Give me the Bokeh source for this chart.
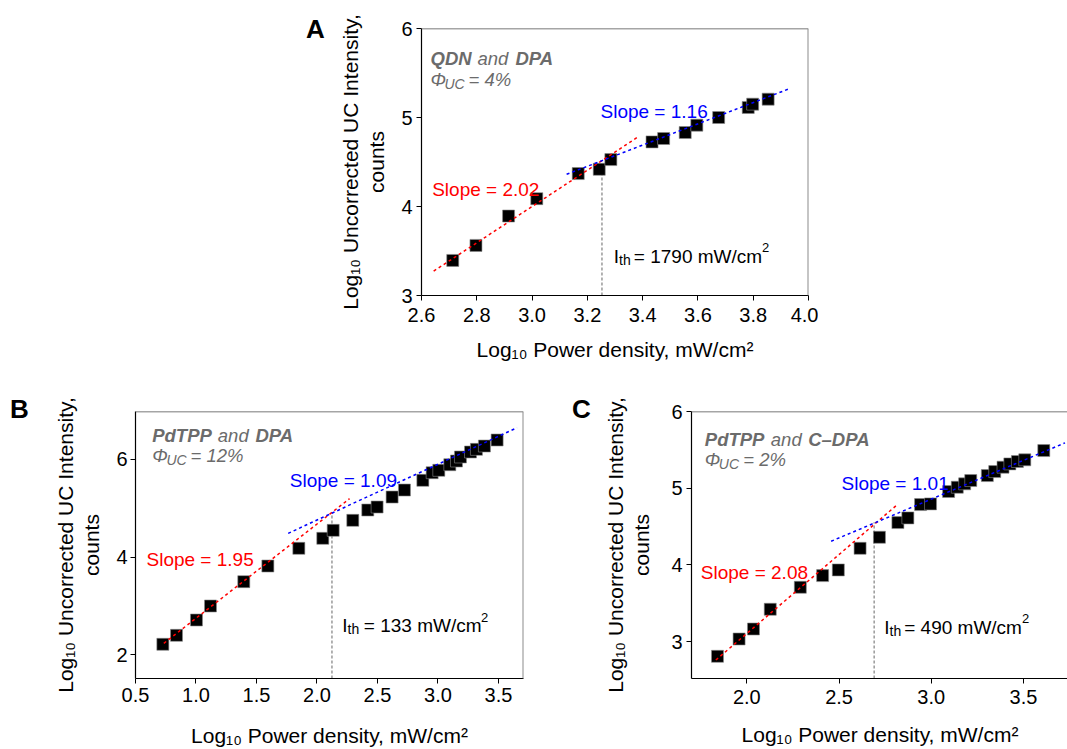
import math
from bokeh.plotting import figure
from bokeh.layouts import column, row
from bokeh.models import Spacer, Label, Span, FixedTicker, Range1d, NumeralTickFormatter, Div
from bokeh.embed import file_html
from bokeh.resources import INLINE

FONT = "Liberation Sans"
GRAY = "#6b6b6b"
RED = "#ff0000"
BLUE = "#0000ff"

# ---------------- data ----------------
# Panel A: QDN and DPA
a_logP = [2.713, 2.797, 2.915, 3.017, 3.167, 3.243, 3.285, 3.434, 3.476, 3.554, 3.596, 3.675, 3.782, 3.798, 3.854]
a_logI = [3.394, 3.563, 3.893, 4.088, 4.370, 4.418, 4.527, 4.726, 4.764, 4.831, 4.914, 5.000, 5.113, 5.150, 5.206]
a_low_fit_x = [2.644, 3.38]
a_low_fit_y = [3.274, 4.775]
a_high_fit_x = [3.125, 3.927]
a_high_fit_y = [4.362, 5.319]
a_threshold = 1790
a_threshold_top = 4.36

# Panel B: PdTPP and DPA
b_logP = [0.726, 0.839, 1.004, 1.120, 1.395, 1.594, 1.850, 2.048, 2.134, 2.296, 2.420, 2.497,
          2.621, 2.723, 2.875, 2.952, 3.007, 3.098, 3.153, 3.186, 3.269, 3.318, 3.384, 3.489]
b_logI = [2.218, 2.401, 2.714, 3.000, 3.497, 3.816, 4.177, 4.381, 4.544, 4.748, 4.959, 5.020,
          5.224, 5.367, 5.565, 5.721, 5.769, 5.884, 5.959, 6.041, 6.143, 6.197, 6.265, 6.388]
b_low_fit_x = [0.734, 2.269]
b_low_fit_y = [2.238, 5.190]
b_high_fit_x = [1.762, 3.654]
b_high_fit_y = [4.483, 6.639]
b_threshold = 133
b_threshold_top = 4.905

# Panel C: PdTPP and C-DPA
c_logP = [1.841, 1.958, 2.036, 2.127, 2.290, 2.411, 2.496, 2.614, 2.719, 2.819, 2.873, 2.942,
          2.996, 3.094, 3.141, 3.181, 3.214, 3.304, 3.344, 3.389, 3.426, 3.467, 3.507, 3.610]
c_logI = [2.809, 3.035, 3.165, 3.422, 3.709, 3.861, 3.935, 4.217, 4.361, 4.552, 4.613, 4.787,
          4.796, 4.957, 5.013, 5.057, 5.100, 5.165, 5.217, 5.274, 5.317, 5.348, 5.370, 5.491]
c_low_fit_x = [1.832, 2.810]
c_low_fit_y = [2.761, 4.774]
c_high_fit_x = [2.457, 3.725]
c_high_fit_y = [4.309, 5.591]
c_threshold = 490
c_threshold_top = 4.557

a_xticks = [2.6, 2.8, 3.0, 3.2, 3.4, 3.6, 3.8, 4.0]
a_yticks = [3, 4, 5, 6]
b_xticks = [0.5, 1.0, 1.5, 2.0, 2.5, 3.0, 3.5]
b_yticks = [2, 4, 6]
c_xticks = [2.0, 2.5, 3.0, 3.5]
c_yticks = [3, 4, 5, 6]

X_TITLE = "Log\u2081\u2080 Power density, mW/cm\u00b2"
Y_TITLE = "Log\u2081\u2080 Uncorrected UC Intensity,\ncounts"

# ---------------- layout geometry (page pixels, origin at top-left) ----------------
GA = dict(left=421, top=28, fw=387, fh=267, xr=(2.6, 4.0), yr=(3.0, 6.0))
GB = dict(left=135, top=409, fw=388, fh=267, xr=(0.5, 3.707), yr=(1.52, 6.97))
GC = dict(left=690, top=411, fw=377, fh=267, xr=(1.7, 3.744), yr=(2.52, 6.0))


def to_data(g, px, py):
    x0, x1 = g["xr"]
    y0, y1 = g["yr"]
    x = x0 + (px - g["left"]) / g["fw"] * (x1 - x0)
    y = y1 - (py - g["top"]) / g["fh"] * (y1 - y0)
    return x, y


def add_text(p, g, s, px, py, size, style="normal", color="black"):
    x, y = to_data(g, px, py)
    p.add_layout(Label(x=x, y=y, text=s, text_font=FONT, text_font_size=f"{size}px",
                       text_font_style=style, text_color=color, text_align="left",
                       text_baseline="alphabetic"))


def letter(ch, width, pad_top, pad_left):
    return Div(text=(f"<div style=\"font-family:'{FONT}';font-size:26px;font-weight:bold;"
                     f"line-height:26px;padding-top:{pad_top}px;padding-left:{pad_left}px;"
                     f"color:black\">{ch}</div>"),
               width=width, height=60, margin=0)


def make_panel(g, b_left, b_right, b_top, b_bottom, xs, ys, lowx, lowy, highx, highy,
               thr, thr_top, xticks, yticks, right_spine=True,
               xstand=4, ystand=4, ylab_stand=10, xlab_stand=16):
    p = figure(x_range=Range1d(*g["xr"]), y_range=Range1d(*g["yr"]),
               frame_width=g["fw"], frame_height=g["fh"],
               min_border_left=b_left, min_border_right=b_right,
               min_border_top=b_top, min_border_bottom=b_bottom,
               output_backend="svg", toolbar_location=None, tools="")
    p.outline_line_color = None
    p.xgrid.visible = False
    p.ygrid.visible = False
    p.background_fill_color = "white"
    p.border_fill_color = "white"
    for ax in (p.xaxis[0], p.yaxis[0]):
        ax.axis_line_color = "black"
        ax.axis_line_width = 1.2
        ax.major_tick_line_color = "black"
        ax.major_tick_line_width = 1
        ax.major_tick_in = 0
        ax.major_tick_out = 5
        ax.minor_tick_line_color = None
        ax.major_label_text_font = FONT
        ax.major_label_text_font_size = "20px"
        ax.major_label_text_color = "black"
        ax.axis_label_text_font = FONT
        ax.axis_label_text_font_size = "21px"
        ax.axis_label_text_font_style = "normal"
        ax.axis_label_text_color = "black"
    p.xaxis[0].ticker = FixedTicker(ticks=xticks)
    p.yaxis[0].ticker = FixedTicker(ticks=yticks)
    p.xaxis[0].formatter = NumeralTickFormatter(format="0.0")
    p.yaxis[0].formatter = NumeralTickFormatter(format="0")
    p.xaxis[0].major_label_standoff = xstand
    p.yaxis[0].major_label_standoff = ystand

    p.yaxis[0].axis_label = Y_TITLE
    p.yaxis[0].axis_label_text_line_height = 1.15
    p.yaxis[0].axis_label_standoff = ylab_stand
    p.xaxis[0].axis_label = X_TITLE
    p.xaxis[0].axis_label_standoff = xlab_stand

    p.add_layout(Span(location=g["yr"][1], dimension="width", line_color="#4d4d4d", line_width=1.6))
    if right_spine:
        p.add_layout(Span(location=g["xr"][1], dimension="height", line_color="#8c8c8c", line_width=2))

    tx = math.log10(thr)
    p.line([tx, tx], [g["yr"][0], thr_top], line_color="#7f7f7f", line_width=1.2, line_dash="3 2")
    p.scatter(xs, ys, marker="square", size=12, fill_color="black", line_color="#8a8a8a", line_width=0.6)
    p.line(lowx, lowy, line_color=RED, line_width=1.5, line_dash="3 3")
    p.line(highx, highy, line_color=BLUE, line_width=1.5, line_dash="3 3")
    return p


# ---------------- panel A ----------------
pA = make_panel(GA, 91, 10, 28, 85, a_logP, a_logI, a_low_fit_x, a_low_fit_y,
                a_high_fit_x, a_high_fit_y, a_threshold, a_threshold_top, a_xticks, a_yticks,
                xstand=7, xlab_stand=13)
for t, px, py, s, st, c in [
    ("QDN", 430, 57.7, 18.5, "bold italic", GRAY),
    ("and", 477, 57.7, 18.5, "italic", GRAY),
    ("DPA", 515, 57.7, 18.5, "bold italic", GRAY),
    ("\u03a6", 430, 79.3, 18.5, "italic", GRAY),
    ("UC", 444, 83.5, 14, "italic", GRAY),
    ("= 4%", 468, 79.3, 18.5, "italic", GRAY),
    ("Slope = 1.16", 600, 110.7, 19, "normal", BLUE),
    ("Slope = 2.02", 431.7, 189.3, 19, "normal", RED),
    ("I", 613.3, 256, 19, "normal", "black"),
    ("th", 618.6, 259.8, 14, "normal", "black"),
    ("= 1790 mW/cm", 633.3, 256, 19, "normal", "black"),
    ("2", 761.5, 247.3, 13, "normal", "black"),
]:
    add_text(pA, GA, t, px, py, s, st, c)

# ---------------- panel B ----------------
pB = make_panel(GB, 97, 47, 29, 73, b_logP, b_logI, b_low_fit_x, b_low_fit_y,
                b_high_fit_x, b_high_fit_y, b_threshold, b_threshold_top, b_xticks, b_yticks,
                ystand=3, xlab_stand=19)
for t, px, py, s, st, c in [
    ("PdTPP", 151.7, 433.3, 18.5, "bold italic", GRAY),
    ("and", 217.3, 433.3, 18.5, "italic", GRAY),
    ("DPA", 255, 433.3, 18.5, "bold italic", GRAY),
    ("\u03a6", 151.7, 453.3, 18.5, "italic", GRAY),
    ("UC", 166, 457.3, 14, "italic", GRAY),
    ("= 12%", 190, 453.3, 18.5, "italic", GRAY),
    ("Slope = 1.09", 289.3, 477.7, 19, "normal", BLUE),
    ("Slope = 1.95", 146, 556.7, 19, "normal", RED),
    ("I", 341.7, 622.7, 19, "normal", "black"),
    ("th", 347, 626.5, 14, "normal", "black"),
    ("= 133 mW/cm", 363.3, 622.7, 19, "normal", "black"),
    ("2", 480.5, 614.5, 13, "normal", "black"),
]:
    add_text(pB, GB, t, px, py, s, st, c)

# ---------------- panel C ----------------
pC = make_panel(GC, 90, 0, 31, 71, c_logP, c_logI, c_low_fit_x, c_low_fit_y,
                c_high_fit_x, c_high_fit_y, c_threshold, c_threshold_top, c_xticks, c_yticks,
                right_spine=False, xstand=6, ylab_stand=15, xlab_stand=16)
for t, px, py, s, st, c in [
    ("PdTPP", 703.3, 439, 18.5, "bold italic", GRAY),
    ("and", 769.3, 439, 18.5, "italic", GRAY),
    ("C\u2013DPA", 806.7, 439, 18.5, "bold italic", GRAY),
    ("\u03a6", 703.3, 459.3, 18.5, "italic", GRAY),
    ("UC", 717.3, 463.3, 14, "italic", GRAY),
    ("= 2%", 741.7, 459.3, 18.5, "italic", GRAY),
    ("Slope = 1.01", 840, 483.3, 19, "normal", BLUE),
    ("Slope = 2.08", 699.3, 571.7, 19, "normal", RED),
    ("I", 882.7, 626.7, 19, "normal", "black"),
    ("th", 888, 630.5, 14, "normal", "black"),
    ("= 490 mW/cm", 902.7, 626.7, 19, "normal", "black"),
    ("2", 1020.5, 618.3, 13, "normal", "black"),
]:
    add_text(pC, GC, t, px, py, s, st, c)

row1 = row(Spacer(width=290, height=380), letter("A", 40, 16, 16), pA)
row2 = row(letter("B", 38, 16, 10), pB, letter("C", 30, 16, 2), pC)
layout = column(row1, row2)
open("out.html", "w").write(file_html(layout, INLINE))
